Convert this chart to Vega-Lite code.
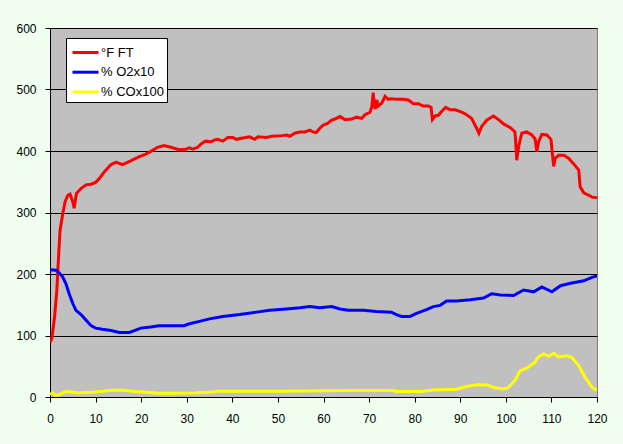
{
  "$schema": "https://vega.github.io/schema/vega-lite/v6.json",
  "autosize": {"type": "none"},
  "width": 547,
  "height": 369,
  "padding": {"left": 50, "top": 28, "right": 26, "bottom": 47},
  "background": "#F0FFF0",
  "config": {
    "view": {"fill": "#C0C0C0", "stroke": "#8C7B6B", "strokeWidth": 1},
    "font": "Liberation Sans",
    "axis": {"labelFont": "Liberation Sans", "labelColor": "#000000", "domainColor": "#000000", "tickColor": "#000000", "title": null}
  },
  "data": {"values": [
    {"x":0,"y":89,"s":"°F FT"},{"x":0.4,"y":95,"s":"°F FT"},{"x":1,"y":130,"s":"°F FT"},{"x":1.5,"y":173,"s":"°F FT"},{"x":1.8,"y":217,"s":"°F FT"},{"x":2.2,"y":271,"s":"°F FT"},{"x":2.8,"y":298,"s":"°F FT"},{"x":3.3,"y":317,"s":"°F FT"},{"x":3.9,"y":328,"s":"°F FT"},{"x":4.4,"y":330,"s":"°F FT"},{"x":5,"y":317,"s":"°F FT"},{"x":5.3,"y":307,"s":"°F FT"},{"x":5.8,"y":331,"s":"°F FT"},{"x":6.8,"y":339,"s":"°F FT"},{"x":7.9,"y":345,"s":"°F FT"},{"x":9,"y":346,"s":"°F FT"},{"x":10,"y":349,"s":"°F FT"},{"x":10.8,"y":355,"s":"°F FT"},{"x":11.9,"y":366,"s":"°F FT"},{"x":13.4,"y":378,"s":"°F FT"},{"x":14.5,"y":382,"s":"°F FT"},{"x":15.9,"y":378,"s":"°F FT"},{"x":17.7,"y":384,"s":"°F FT"},{"x":19.6,"y":391,"s":"°F FT"},{"x":21,"y":395,"s":"°F FT"},{"x":22.5,"y":401,"s":"°F FT"},{"x":23.6,"y":406,"s":"°F FT"},{"x":25,"y":409,"s":"°F FT"},{"x":26.5,"y":406,"s":"°F FT"},{"x":28.3,"y":402,"s":"°F FT"},{"x":29.8,"y":403,"s":"°F FT"},{"x":30.6,"y":405,"s":"°F FT"},{"x":31.3,"y":403,"s":"°F FT"},{"x":32.4,"y":406,"s":"°F FT"},{"x":33.2,"y":412,"s":"°F FT"},{"x":34.1,"y":416,"s":"°F FT"},{"x":35.4,"y":415,"s":"°F FT"},{"x":36.1,"y":418,"s":"°F FT"},{"x":36.8,"y":419,"s":"°F FT"},{"x":37.9,"y":416,"s":"°F FT"},{"x":39,"y":422,"s":"°F FT"},{"x":40.1,"y":422,"s":"°F FT"},{"x":40.9,"y":419,"s":"°F FT"},{"x":42.3,"y":421,"s":"°F FT"},{"x":43.8,"y":423,"s":"°F FT"},{"x":44.9,"y":419,"s":"°F FT"},{"x":45.6,"y":423,"s":"°F FT"},{"x":47.5,"y":422,"s":"°F FT"},{"x":48.6,"y":424,"s":"°F FT"},{"x":50.8,"y":425,"s":"°F FT"},{"x":51.9,"y":426,"s":"°F FT"},{"x":52.6,"y":424,"s":"°F FT"},{"x":53.7,"y":429,"s":"°F FT"},{"x":54.8,"y":431,"s":"°F FT"},{"x":55.9,"y":431,"s":"°F FT"},{"x":57,"y":434,"s":"°F FT"},{"x":57.7,"y":431,"s":"°F FT"},{"x":58.4,"y":430,"s":"°F FT"},{"x":59.2,"y":437,"s":"°F FT"},{"x":59.9,"y":442,"s":"°F FT"},{"x":60.9,"y":445,"s":"°F FT"},{"x":61.7,"y":450,"s":"°F FT"},{"x":62.5,"y":452,"s":"°F FT"},{"x":63.6,"y":456,"s":"°F FT"},{"x":64.7,"y":451,"s":"°F FT"},{"x":66.2,"y":452,"s":"°F FT"},{"x":67.2,"y":455,"s":"°F FT"},{"x":68.4,"y":453,"s":"°F FT"},{"x":69.1,"y":459,"s":"°F FT"},{"x":70.2,"y":463,"s":"°F FT"},{"x":70.6,"y":472,"s":"°F FT"},{"x":70.9,"y":495,"s":"°F FT"},{"x":71.3,"y":468,"s":"°F FT"},{"x":71.7,"y":483,"s":"°F FT"},{"x":72,"y":473,"s":"°F FT"},{"x":72.8,"y":478,"s":"°F FT"},{"x":73.5,"y":489,"s":"°F FT"},{"x":74.2,"y":484,"s":"°F FT"},{"x":74.9,"y":485,"s":"°F FT"},{"x":76,"y":484,"s":"°F FT"},{"x":77.5,"y":484,"s":"°F FT"},{"x":78.6,"y":483,"s":"°F FT"},{"x":79.7,"y":477,"s":"°F FT"},{"x":80.8,"y":477,"s":"°F FT"},{"x":81.9,"y":473,"s":"°F FT"},{"x":83,"y":473,"s":"°F FT"},{"x":83.6,"y":471,"s":"°F FT"},{"x":83.9,"y":451,"s":"°F FT"},{"x":84.5,"y":457,"s":"°F FT"},{"x":85.2,"y":458,"s":"°F FT"},{"x":86,"y":465,"s":"°F FT"},{"x":86.8,"y":471,"s":"°F FT"},{"x":87.8,"y":467,"s":"°F FT"},{"x":88.9,"y":467,"s":"°F FT"},{"x":90,"y":464,"s":"°F FT"},{"x":91,"y":461,"s":"°F FT"},{"x":92.5,"y":453,"s":"°F FT"},{"x":93.6,"y":437,"s":"°F FT"},{"x":94.1,"y":429,"s":"°F FT"},{"x":94.7,"y":440,"s":"°F FT"},{"x":95.8,"y":450,"s":"°F FT"},{"x":97.3,"y":457,"s":"°F FT"},{"x":98.4,"y":451,"s":"°F FT"},{"x":99.5,"y":444,"s":"°F FT"},{"x":101,"y":438,"s":"°F FT"},{"x":102,"y":431,"s":"°F FT"},{"x":102.2,"y":410,"s":"°F FT"},{"x":102.4,"y":385,"s":"°F FT"},{"x":102.8,"y":407,"s":"°F FT"},{"x":103.5,"y":429,"s":"°F FT"},{"x":104.6,"y":431,"s":"°F FT"},{"x":105.7,"y":426,"s":"°F FT"},{"x":106.4,"y":420,"s":"°F FT"},{"x":106.8,"y":399,"s":"°F FT"},{"x":107.2,"y":415,"s":"°F FT"},{"x":107.9,"y":427,"s":"°F FT"},{"x":109,"y":426,"s":"°F FT"},{"x":109.9,"y":419,"s":"°F FT"},{"x":110.2,"y":396,"s":"°F FT"},{"x":110.5,"y":375,"s":"°F FT"},{"x":110.8,"y":388,"s":"°F FT"},{"x":111.6,"y":393,"s":"°F FT"},{"x":112.7,"y":393,"s":"°F FT"},{"x":113.8,"y":388,"s":"°F FT"},{"x":114.9,"y":379,"s":"°F FT"},{"x":116,"y":369,"s":"°F FT"},{"x":116.3,"y":342,"s":"°F FT"},{"x":117.1,"y":332,"s":"°F FT"},{"x":118.2,"y":328,"s":"°F FT"},{"x":118.9,"y":325,"s":"°F FT"},{"x":120,"y":324,"s":"°F FT"},
    {"x":0,"y":207,"s":"% O2x10"},{"x":1.3,"y":206,"s":"% O2x10"},{"x":2,"y":202,"s":"% O2x10"},{"x":2.8,"y":195,"s":"% O2x10"},{"x":3.5,"y":184,"s":"% O2x10"},{"x":4.2,"y":168,"s":"% O2x10"},{"x":5,"y":152,"s":"% O2x10"},{"x":5.7,"y":141,"s":"% O2x10"},{"x":6.8,"y":134,"s":"% O2x10"},{"x":7.9,"y":125,"s":"% O2x10"},{"x":9,"y":116,"s":"% O2x10"},{"x":10,"y":112,"s":"% O2x10"},{"x":11.5,"y":110,"s":"% O2x10"},{"x":13.4,"y":108,"s":"% O2x10"},{"x":15.2,"y":105,"s":"% O2x10"},{"x":17.4,"y":105,"s":"% O2x10"},{"x":18.5,"y":108,"s":"% O2x10"},{"x":19.9,"y":112,"s":"% O2x10"},{"x":22.1,"y":114,"s":"% O2x10"},{"x":23.9,"y":116,"s":"% O2x10"},{"x":26.5,"y":116,"s":"% O2x10"},{"x":29.4,"y":116,"s":"% O2x10"},{"x":30.6,"y":119,"s":"% O2x10"},{"x":32.8,"y":123,"s":"% O2x10"},{"x":35,"y":127,"s":"% O2x10"},{"x":37.9,"y":131,"s":"% O2x10"},{"x":41.6,"y":134,"s":"% O2x10"},{"x":45.3,"y":138,"s":"% O2x10"},{"x":48.2,"y":141,"s":"% O2x10"},{"x":51.9,"y":143,"s":"% O2x10"},{"x":54.8,"y":145,"s":"% O2x10"},{"x":57,"y":147,"s":"% O2x10"},{"x":59.2,"y":145,"s":"% O2x10"},{"x":61.8,"y":147,"s":"% O2x10"},{"x":63.6,"y":143,"s":"% O2x10"},{"x":65.4,"y":141,"s":"% O2x10"},{"x":68.7,"y":141,"s":"% O2x10"},{"x":71.6,"y":139,"s":"% O2x10"},{"x":74.9,"y":138,"s":"% O2x10"},{"x":76,"y":134,"s":"% O2x10"},{"x":77.1,"y":131,"s":"% O2x10"},{"x":79,"y":131,"s":"% O2x10"},{"x":80.4,"y":136,"s":"% O2x10"},{"x":82.6,"y":142,"s":"% O2x10"},{"x":84.1,"y":147,"s":"% O2x10"},{"x":85.6,"y":149,"s":"% O2x10"},{"x":87,"y":156,"s":"% O2x10"},{"x":89.2,"y":156,"s":"% O2x10"},{"x":92.2,"y":158,"s":"% O2x10"},{"x":95.1,"y":161,"s":"% O2x10"},{"x":96.9,"y":168,"s":"% O2x10"},{"x":98.8,"y":166,"s":"% O2x10"},{"x":101.7,"y":165,"s":"% O2x10"},{"x":103.9,"y":174,"s":"% O2x10"},{"x":106.1,"y":171,"s":"% O2x10"},{"x":107.9,"y":179,"s":"% O2x10"},{"x":110.1,"y":171,"s":"% O2x10"},{"x":112,"y":181,"s":"% O2x10"},{"x":114.2,"y":185,"s":"% O2x10"},{"x":117.1,"y":189,"s":"% O2x10"},{"x":119,"y":195,"s":"% O2x10"},{"x":120,"y":197,"s":"% O2x10"},
    {"x":0,"y":4,"s":"% COx100"},{"x":0.6,"y":7,"s":"% COx100"},{"x":1.3,"y":2,"s":"% COx100"},{"x":2.4,"y":5,"s":"% COx100"},{"x":3.5,"y":9,"s":"% COx100"},{"x":4.6,"y":8,"s":"% COx100"},{"x":6,"y":6.5,"s":"% COx100"},{"x":9,"y":7.6,"s":"% COx100"},{"x":11.2,"y":9,"s":"% COx100"},{"x":13.4,"y":11,"s":"% COx100"},{"x":16.3,"y":11,"s":"% COx100"},{"x":18.5,"y":9,"s":"% COx100"},{"x":20.7,"y":8,"s":"% COx100"},{"x":23.6,"y":6,"s":"% COx100"},{"x":28,"y":6,"s":"% COx100"},{"x":31.6,"y":6.5,"s":"% COx100"},{"x":35.7,"y":8,"s":"% COx100"},{"x":36.5,"y":9.5,"s":"% COx100"},{"x":50.4,"y":9.5,"s":"% COx100"},{"x":64.3,"y":10.5,"s":"% COx100"},{"x":75.3,"y":10.5,"s":"% COx100"},{"x":76,"y":9,"s":"% COx100"},{"x":81.2,"y":9,"s":"% COx100"},{"x":84.1,"y":11.5,"s":"% COx100"},{"x":89.2,"y":12.7,"s":"% COx100"},{"x":91.4,"y":17,"s":"% COx100"},{"x":93.6,"y":20,"s":"% COx100"},{"x":95.8,"y":19.6,"s":"% COx100"},{"x":97.6,"y":15,"s":"% COx100"},{"x":99.5,"y":13,"s":"% COx100"},{"x":100.5,"y":15,"s":"% COx100"},{"x":102,"y":27,"s":"% COx100"},{"x":103.1,"y":42,"s":"% COx100"},{"x":104.9,"y":48.5,"s":"% COx100"},{"x":106.4,"y":56.6,"s":"% COx100"},{"x":107.1,"y":65,"s":"% COx100"},{"x":108.3,"y":70,"s":"% COx100"},{"x":109.4,"y":66,"s":"% COx100"},{"x":110.5,"y":71,"s":"% COx100"},{"x":111.6,"y":65,"s":"% COx100"},{"x":113.4,"y":67,"s":"% COx100"},{"x":114.5,"y":64,"s":"% COx100"},{"x":116,"y":51,"s":"% COx100"},{"x":117.4,"y":32,"s":"% COx100"},{"x":118.9,"y":16,"s":"% COx100"},{"x":120,"y":11,"s":"% COx100"}
  ]},
  "mark": {"type": "line", "strokeWidth": 3, "clip": true},
  "encoding": {
    "x": {"field": "x", "type": "quantitative", "scale": {"domain": [0, 120], "nice": false},
      "axis": {"values": [0,10,20,30,40,50,60,70,80,90,100,110,120], "grid": false, "tickSize": 5, "labelPadding": 11, "labelFontSize": 12, "labelFlush": false}},
    "y": {"field": "y", "type": "quantitative", "scale": {"domain": [0, 600], "nice": false},
      "axis": {"values": [0,100,200,300,400,500,600], "grid": true, "gridColor": "#000000", "gridWidth": 1, "gridOpacity": 1, "tickSize": 5, "labelPadding": 9, "labelFontSize": 12, "labelFlush": false}},
    "color": {"field": "s", "type": "nominal",
      "scale": {"domain": ["°F FT", "% O2x10", "% COx100"], "range": ["#FF0000", "#0000FF", "#FFFF00"]},
      "legend": {"title": null, "orient": "none", "legendX": 16, "legendY": 10, "fillColor": "#FFFFFF", "strokeColor": "#000000", "padding": 3, "symbolType": "M-1.3,0H1.3", "symbolSize": 400, "symbolOffset": 5, "symbolStrokeWidth": 3, "labelFont": "Liberation Sans", "labelFontSize": 13, "labelColor": "#000000", "labelOffset": 4, "rowPadding": 0.7}},
    "order": {"field": "x", "type": "quantitative"}
  }
}
